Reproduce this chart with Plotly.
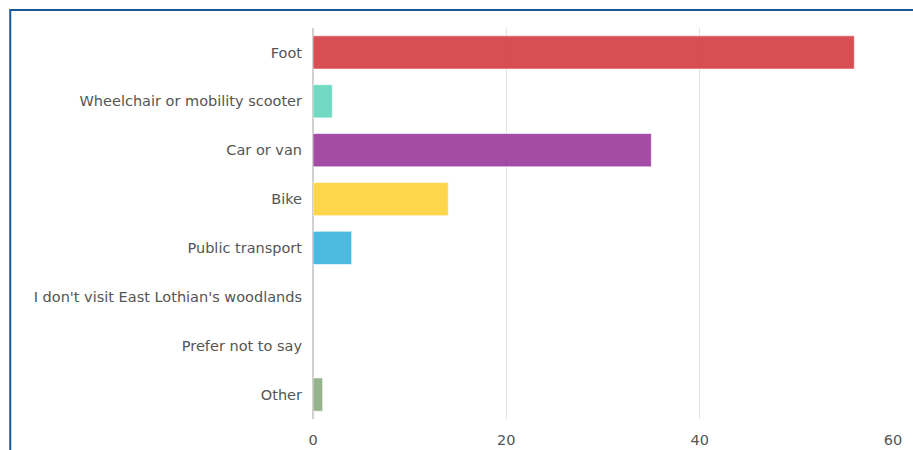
import plotly.graph_objects as go

# Travel modes used to reach East Lothian's woodlands (responses)
categories = [
    "Foot",
    "Wheelchair or mobility scooter",
    "Car or van",
    "Bike",
    "Public transport",
    "I don't visit East Lothian's woodlands",
    "Prefer not to say",
    "Other",
]
counts = [56, 2, 35, 14, 4, 0, 0, 1]
bar_colors = [
    "rgba(212,64,68,0.92)",
    "rgba(100,215,190,0.92)",
    "rgba(156,60,158,0.92)",
    "rgba(254,210,60,0.92)",
    "rgba(62,180,222,0.92)",
    "rgba(150,150,150,0.92)",
    "rgba(150,150,150,0.92)",
    "rgba(140,172,130,0.92)",
]
x_ticks = [0, 20, 40, 60]

# outline only on bars that have a length
outline_widths = [1 if c > 0 else 0 for c in counts]

label_font = dict(family="DejaVu Sans, sans-serif", size=14.5, color="#555555")

fig = go.Figure(
    go.Bar(
        x=counts,
        y=categories,
        orientation="h",
        marker=dict(
            color=bar_colors,
            line=dict(color="rgba(255,255,255,0.6)", width=outline_widths),
        ),
        hoverinfo="x+y",
    )
)

fig.update_layout(
    width=913,
    height=450,
    paper_bgcolor="white",
    plot_bgcolor="white",
    margin=dict(l=313, r=19.5, t=27.5, b=30.5, autoexpand=False),
    bargap=0.32,
    showlegend=False,
    font=label_font,
    shapes=[
        dict(
            type="rect",
            xref="paper",
            yref="paper",
            x0=-0.522,
            x1=1.2,
            y0=-0.3,
            y1=1.0459,
            line=dict(color="#1b5797", width=2),
            fillcolor="rgba(0,0,0,0)",
            layer="below",
        )
    ],
)

fig.update_xaxes(
    range=[0, 60],
    tickvals=x_ticks,
    showgrid=True,
    gridcolor="#e2e2e2",
    gridwidth=1,
    zeroline=True,
    zerolinecolor="#d0d0d0",
    zerolinewidth=2,
    showline=False,
    ticks="",
    automargin=False,
    ticklabelstandoff=10,
    tickfont=label_font,
    fixedrange=True,
)

fig.update_yaxes(
    categoryorder="array",
    categoryarray=categories[::-1],
    showgrid=False,
    showline=False,
    ticks="",
    automargin=False,
    ticklabelstandoff=10,
    tickfont=label_font,
    fixedrange=True,
)

fig.write_html("out.html", config={"displayModeBar": False})
